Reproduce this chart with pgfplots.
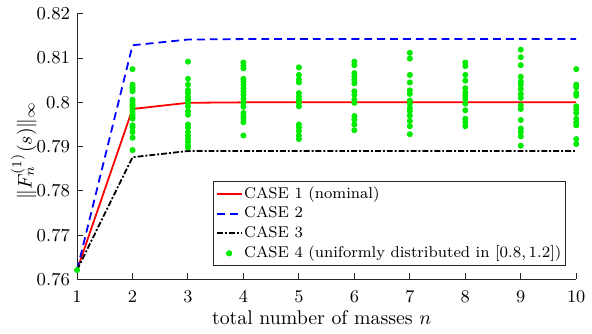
\documentclass[border=0pt]{standalone}
\usepackage{pgfplots}
\pgfplotsset{compat=1.18}
\definecolor{mgreen}{RGB}{0,235,0}
\definecolor{axgray}{RGB}{38,38,38}
\pgfplotsset{short legend/.style={legend image code/.code={\draw[mark repeat=2,mark phase=2,##1] plot coordinates {(0pt,0pt) (6.25pt,0pt) (12.5pt,0pt)};}}}
\begin{document}
\begin{tikzpicture}
\begin{axis}[
  scale only axis,
  width=252pt, height=134pt,
  xmin=1, xmax=10, ymin=0.76, ymax=0.82,
  xtick={1,...,10},
  ytick={0.76,0.77,0.78,0.79,0.80,0.81,0.82},
  yticklabels={0.76,0.77,0.78,0.79,0.8,0.81,0.82},
  axis x line*=bottom, axis y line*=left,
  axis line style={-, axgray, line width=0.5pt},
  tick style={axgray, line width=0.5pt},
  tick align=inside,
  major tick length=3pt,
  tick label style={font=\fontsize{9.2}{11}\selectfont},
  xticklabel style={yshift=-2.3pt},
  xlabel={total number of masses $n$},
  ylabel={$\|F_n^{(1)}(s)\|_\infty$},
  xlabel style={at={(axis description cs:0.49,0)}, anchor=base, yshift=-23pt},
  ylabel style={at={(axis description cs:-0.1067,0.485)}, anchor=center},
  short legend,
  legend style={at={(0.98,0.05)}, anchor=south east, draw=axgray, line width=0.5pt,
    font=\fontsize{7.9}{9.5}\selectfont, inner xsep=1.4pt, inner ysep=1.6pt, row sep=1.2pt,
    nodes={inner sep=0.8pt}, cells={anchor=west}},
  legend cell align=left,
  clip=false,
]
\addplot[red, line width=0.9pt] coordinates {(1,0.7621) (2,0.7985) (3,0.7999) (4,0.8000) (5,0.8000) (6,0.8000) (7,0.8000) (8,0.8000) (9,0.8000) (10,0.8000)};
\addlegendentry{CASE 1 (nominal)}
\addplot[blue, line width=0.9pt, dash pattern=on 4pt off 2.5pt] coordinates {(1,0.7621) (2,0.8129) (3,0.8142) (4,0.8143) (5,0.8143) (6,0.8143) (7,0.8143) (8,0.8143) (9,0.8143) (10,0.8143)};
\addlegendentry{CASE 2}
\addplot[black, line width=0.9pt, dash pattern=on 3pt off 1pt on 1pt off 1pt] coordinates {(1,0.7621) (2,0.7876) (3,0.7890) (4,0.7890) (5,0.7890) (6,0.7890) (7,0.7890) (8,0.7890) (9,0.7890) (10,0.7890)};
\addlegendentry{CASE 3}
\addplot[only marks, mark=*, mark size=1.3pt, mgreen, mark options={draw=mgreen, fill=mgreen}] coordinates {
(1,0.7621)
(2,0.8075) (2,0.8040) (2,0.8034) (2,0.8030) (2,0.8025) (2,0.8006) (2,0.8002) (2,0.7996) (2,0.7993) (2,0.7989)
(2,0.7984) (2,0.7978) (2,0.7972) (2,0.7967) (2,0.7963) (2,0.7948) (2,0.7943) (2,0.7933) (2,0.7920) (2,0.7892)
(3,0.8092) (3,0.8053) (3,0.8040) (3,0.8028) (3,0.8021) (3,0.8013) (3,0.8006) (3,0.7999) (3,0.7991) (3,0.7980)
(3,0.7972) (3,0.7950) (3,0.7943) (3,0.7933) (3,0.7925) (3,0.7918) (3,0.7911) (3,0.7903) (3,0.7898)
(4,0.8090) (4,0.8083) (4,0.8077) (4,0.8053) (4,0.8047) (4,0.8040) (4,0.8032) (4,0.8025) (4,0.8017) (4,0.8008)
(4,0.7999) (4,0.7990) (4,0.7976) (4,0.7969) (4,0.7963) (4,0.7955) (4,0.7925)
(5,0.8079) (5,0.8062) (5,0.8052) (5,0.8045) (5,0.8021) (5,0.8013) (5,0.8006) (5,0.7999) (5,0.7991) (5,0.7950)
(5,0.7943) (5,0.7935) (5,0.7925) (5,0.7917)
(6,0.8092) (6,0.8084) (6,0.8066) (6,0.8058) (6,0.8051) (6,0.8043) (6,0.8025) (6,0.8017) (6,0.8006) (6,0.7999)
(6,0.7969) (6,0.7961) (6,0.7950) (6,0.7937)
(7,0.8112) (7,0.8099) (7,0.8062) (7,0.8045) (7,0.8027) (7,0.8019) (7,0.8004) (7,0.7997) (7,0.7987) (7,0.7980)
(7,0.7970) (7,0.7958) (7,0.7946) (7,0.7928)
(8,0.8090) (8,0.8082) (8,0.8062) (8,0.8049) (8,0.8032) (8,0.8022) (8,0.8015) (8,0.8008) (8,0.7997) (8,0.7982)
(8,0.7963) (8,0.7955) (8,0.7946)
(9,0.8119) (9,0.8102) (9,0.8084) (9,0.8058) (9,0.8047) (9,0.8040) (9,0.8030) (9,0.8019) (9,0.8010) (9,0.7993)
(9,0.7985) (9,0.7960) (9,0.7941) (9,0.7933) (9,0.7923) (9,0.7902)
(10,0.8075) (10,0.8040) (10,0.8034) (10,0.8021) (10,0.8015) (10,0.7991) (10,0.7984) (10,0.7976) (10,0.7963) (10,0.7955)
(10,0.7948) (10,0.7917) (10,0.7906)
};
\addlegendentry{CASE 4 (uniformly distributed in $[0.8, 1.2]$)}
\end{axis}
\path (current axis.south west) ++(-38.9pt,-27.3pt);
\path (current axis.north east) ++(5.2pt,7pt);
\end{tikzpicture}
\end{document}
